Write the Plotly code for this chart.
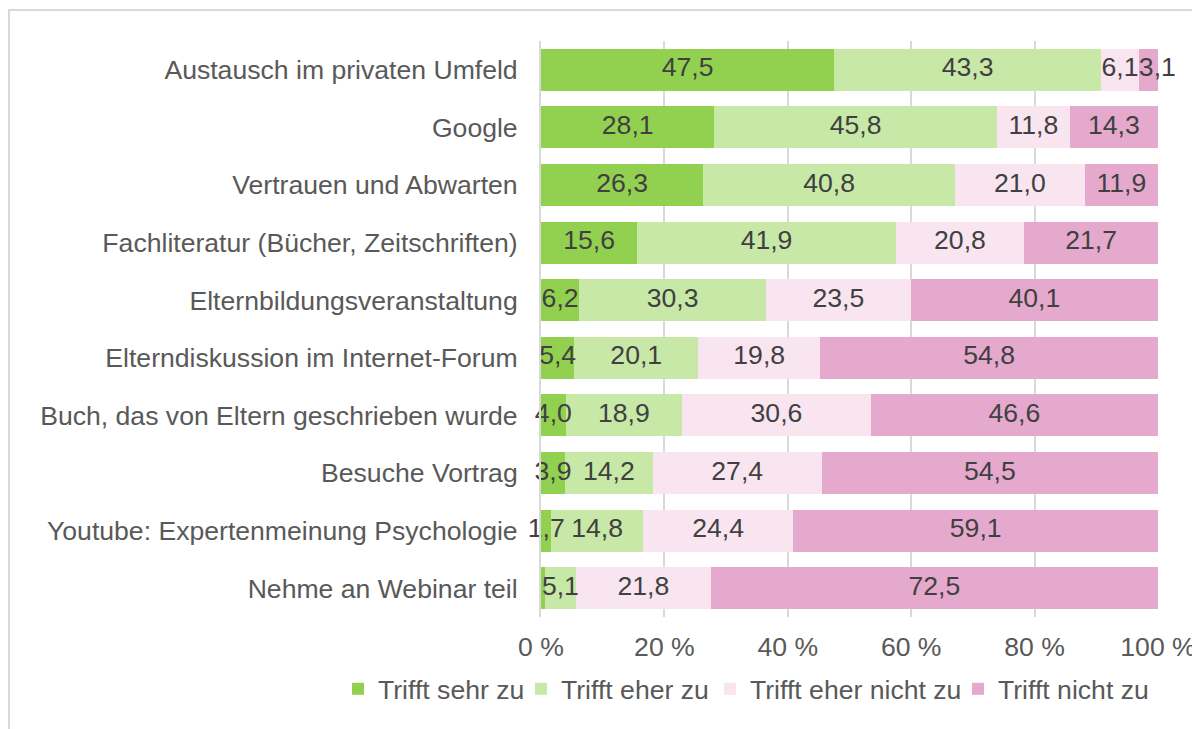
import plotly.graph_objects as go

categories = [
    "Austausch im privaten Umfeld",
    "Google",
    "Vertrauen und Abwarten",
    "Fachliteratur (Bücher, Zeitschriften)",
    "Elternbildungsveranstaltung",
    "Elterndiskussion im Internet-Forum",
    "Buch, das von Eltern geschrieben wurde",
    "Besuche Vortrag",
    "Youtube: Expertenmeinung Psychologie",
    "Nehme an Webinar teil",
]
series_names = ["Trifft sehr zu", "Trifft eher zu", "Trifft eher nicht zu", "Trifft nicht zu"]
sehr_zu = [47.5, 28.1, 26.3, 15.6, 6.2, 5.4, 4.0, 3.9, 1.7, 0.6]
eher_zu = [43.3, 45.8, 40.8, 41.9, 30.3, 20.1, 18.9, 14.2, 14.8, 5.1]
eher_nicht_zu = [6.1, 11.8, 21.0, 20.8, 23.5, 19.8, 30.6, 27.4, 24.4, 21.8]
nicht_zu = [3.1, 14.3, 11.9, 21.7, 40.1, 54.8, 46.6, 54.5, 59.1, 72.5]
tick_values = [0, 20, 40, 60, 80, 100]
tick_labels = ["0 %", "20 %", "40 %", "60 %", "80 %", "100 %"]

colors = ["#92D050", "#C7E8A6", "#F8E5F0", "#E5A9CD"]
legend_widths = [138, 144, 203, 150]
series = [sehr_zu, eher_zu, eher_nicht_zu, nicht_zu]

FONT = "Liberation Sans, Arial, sans-serif"
FS = 26.6

fig = go.Figure()
for name, vals, col, lw in zip(series_names, series, colors, legend_widths):
    fig.add_trace(go.Bar(
        name=name, y=categories, x=vals, orientation="h",
        marker=dict(color=col, line=dict(width=0)),
        textposition="none", legendwidth=lw,
        hoverinfo="x+y+name",
    ))

# data labels in the middle of each segment (rows normalised to 100 %)
lab_x, lab_y, lab_t, lab_p = [], [], [], []
for i, cat in enumerate(categories):
    row = [s[i] for s in series]
    total = sum(row)
    start = 0.0
    for j, v in enumerate(row):
        if v >= 1:
            lab_t.append(f"{v:.1f}".replace(".", ","))
            lab_y.append(cat)
            if j == len(row) - 1 and v < 5:
                # small last segment: label starts at the segment start
                lab_x.append(start / total * 100)
                lab_p.append("middle right")
            else:
                lab_x.append((start + v / 2) / total * 100)
                lab_p.append("middle center")
        start += v
fig.add_trace(go.Scatter(
    x=lab_x, y=lab_y, text=lab_t, mode="text", textposition=lab_p,
    textfont=dict(family=FONT, size=FS, color="#404040"),
    showlegend=False, hoverinfo="skip", cliponaxis=False,
))

# page body has an 8 px margin; figure coordinates = page coordinates - 8
W, H = 1192, 721
L, R, T, B = 533, 42, 33, 112
pw, ph = W - L - R, H - T - B

def px2x(p):
    return (p - 8 - L) / pw

def py2y(p):
    return (H - B - (p - 8)) / ph

fig.update_layout(
    width=W, height=H,
    barmode="stack", barnorm="percent", bargap=0.27,
    paper_bgcolor="white", plot_bgcolor="white",
    margin=dict(l=L, r=R, t=T, b=B, autoexpand=False),
    font=dict(family=FONT, size=FS, color="#595959"),
    xaxis=dict(
        range=[0, 100], tickvals=tick_values, ticktext=tick_labels,
        showgrid=True, gridcolor="#D9D9D9", gridwidth=2,
        zeroline=False, showline=False, automargin=False,
        tickfont=dict(family=FONT, size=FS, color="#595959"),
        ticklabelstandoff=11, fixedrange=True,
    ),
    yaxis=dict(
        autorange="reversed", showgrid=False, zeroline=False,
        showline=True, linecolor="#D9D9D9", linewidth=2, automargin=False,
        tickfont=dict(family=FONT, size=FS, color="#595959"),
        ticklabelstandoff=16, fixedrange=True,
    ),
    legend=dict(
        orientation="h", xref="paper", x=px2x(338), xanchor="left",
        y=py2y(689), yanchor="middle",
        font=dict(family=FONT, size=FS, color="#595959"),
        traceorder="normal", itemwidth=30, bgcolor="rgba(0,0,0,0)",
    ),
    shapes=[dict(
        type="rect", xref="paper", yref="paper",
        x0=px2x(9), x1=px2x(1215), y0=py2y(10), y1=py2y(745),
        line=dict(color="#D9D9D9", width=2), fillcolor="rgba(0,0,0,0)", layer="below",
    )],
)

fig.write_html("out.html")
